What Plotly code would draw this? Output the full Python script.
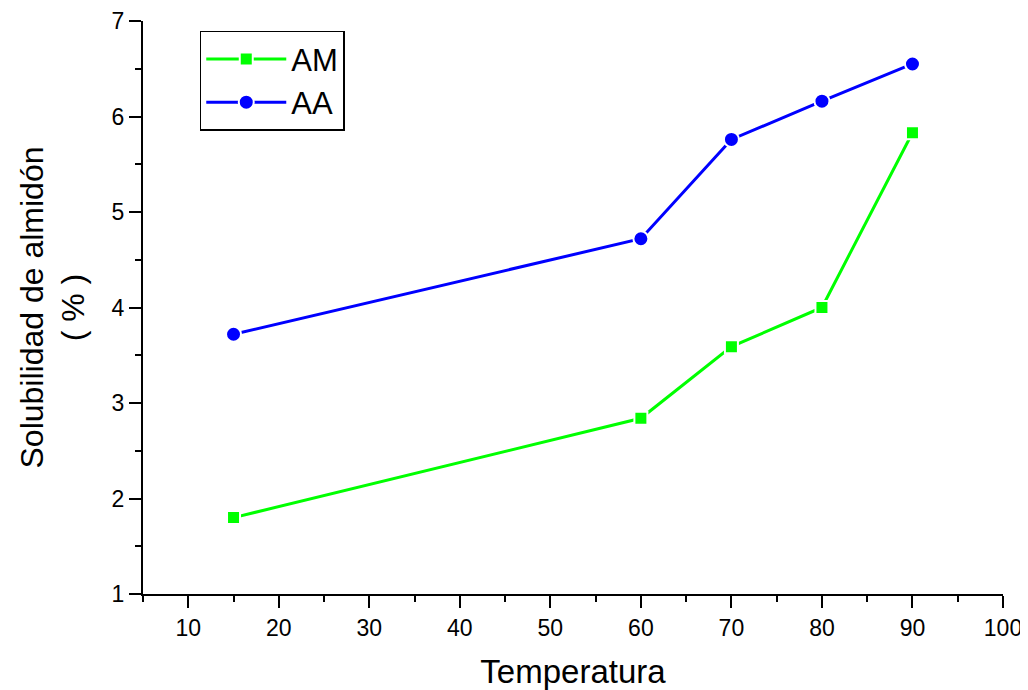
import plotly.graph_objects as go

temperatura = [15, 60, 70, 80, 90]
am_values = [1.80, 2.84, 3.59, 4.00, 5.83]
aa_values = [3.72, 4.72, 5.76, 6.16, 6.55]
x_ticks = [10, 20, 30, 40, 50, 60, 70, 80, 90, 100]
y_ticks = [1, 2, 3, 4, 5, 6, 7]

FONT = "Liberation Sans, Arial"

fig = go.Figure()
fig.add_trace(go.Scatter(
    x=temperatura, y=am_values, name="AM", mode="lines+markers",
    line=dict(color="#00FF00", width=3),
    marker=dict(symbol="square", size=13, color="#00FF00", line=dict(color="white", width=2)),
))
fig.add_trace(go.Scatter(
    x=temperatura, y=aa_values, name="AA", mode="lines+markers",
    line=dict(color="#0000FF", width=3),
    marker=dict(symbol="circle", size=15, color="#0000FF", line=dict(color="white", width=2)),
))

axis_common = dict(
    showgrid=False, zeroline=False, showline=True, linecolor="black", linewidth=2,
    ticks="outside", ticklen=12, tickwidth=2, tickcolor="black",
    tickfont=dict(family=FONT, size=23, color="black"),
    minor=dict(ticks="outside", ticklen=6, tickwidth=2, tickcolor="black"),
    automargin=False,
)

fig.update_xaxes(
    range=[5, 100], tickvals=x_ticks, ticktext=[str(v) for v in x_ticks],
    title=dict(text="Temperatura", font=dict(family=FONT, size=33, color="black"), standoff=22),
    minor_dtick=5, **axis_common,
)
fig.update_yaxes(
    range=[1, 7], tickvals=y_ticks, ticktext=[str(v) for v in y_ticks],
    title=dict(text="Solubilidad de almidón<br>( % )", font=dict(family=FONT, size=32, color="black"), standoff=17),
    minor_dtick=0.5, **axis_common,
)

fig.update_layout(
    width=1020, height=682,
    margin=dict(l=135, r=25, t=13, b=96),
    plot_bgcolor="white", paper_bgcolor="white",
    showlegend=True,
    legend=dict(
        x=0.066, y=0.983, xanchor="left", yanchor="top",
        bordercolor="black", borderwidth=1.5, bgcolor="white",
        font=dict(family=FONT, size=31, color="black"),
        itemwidth=80, tracegroupgap=0,
    ),
)

fig.write_html("out.html")
